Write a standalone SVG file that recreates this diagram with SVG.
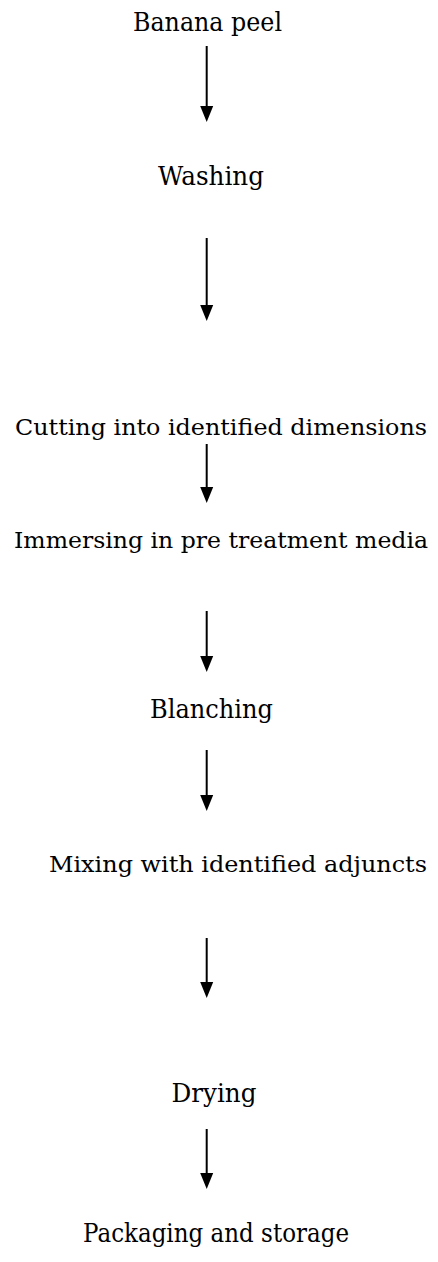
<svg xmlns="http://www.w3.org/2000/svg" width="438" height="1262" viewBox="0 0 438 1262">
<style>
  text { font-family: 'DejaVu Serif', 'Liberation Serif', serif; font-size: 26px; fill: #000; text-anchor: middle; }
  .long { font-size: 23px; }
  .arr { stroke: #000; stroke-width: 2; fill: none; marker-end: url(#head); }
</style>
<defs>
  <marker id="head" markerUnits="userSpaceOnUse" markerWidth="16" markerHeight="14" viewBox="0 0 16 14" refX="2" refY="7" orient="auto">
    <path d="M0,0.5 L16,7 L0,13.5 z" fill="#000"/>
  </marker>
</defs>
<rect width="438" height="1262" fill="#fff"/>
<g id="n1"><text x="207.5" y="31" textLength="149" lengthAdjust="spacingAndGlyphs">Banana peel</text></g>
<g id="n2"><text x="211" y="185" textLength="106" lengthAdjust="spacingAndGlyphs">Washing</text></g>
<g id="n3"><text class="long" x="221" y="435" textLength="412" lengthAdjust="spacingAndGlyphs">Cutting into identified dimensions</text></g>
<g id="n4"><text class="long" x="221" y="548" textLength="414" lengthAdjust="spacingAndGlyphs">Immersing in pre treatment media</text></g>
<g id="n5"><text x="211.5" y="718" textLength="123" lengthAdjust="spacingAndGlyphs">Blanching</text></g>
<g id="n6"><text class="long" x="238" y="872" textLength="378" lengthAdjust="spacingAndGlyphs">Mixing with identified adjuncts</text></g>
<g id="n7"><text x="214" y="1102" textLength="85" lengthAdjust="spacingAndGlyphs">Drying</text></g>
<g id="n8"><text x="216" y="1242" textLength="266" lengthAdjust="spacingAndGlyphs">Packaging and storage</text></g>
<g id="connectors">
  <line class="arr" x1="206.7" y1="46" x2="206.7" y2="108"/>
  <line class="arr" x1="206.7" y1="238" x2="206.7" y2="307"/>
  <line class="arr" x1="206.7" y1="444" x2="206.7" y2="489"/>
  <line class="arr" x1="206.7" y1="611" x2="206.7" y2="658"/>
  <line class="arr" x1="206.7" y1="750" x2="206.7" y2="797"/>
  <line class="arr" x1="206.7" y1="938" x2="206.7" y2="984"/>
  <line class="arr" x1="206.7" y1="1129" x2="206.7" y2="1175"/>
</g>
</svg>
